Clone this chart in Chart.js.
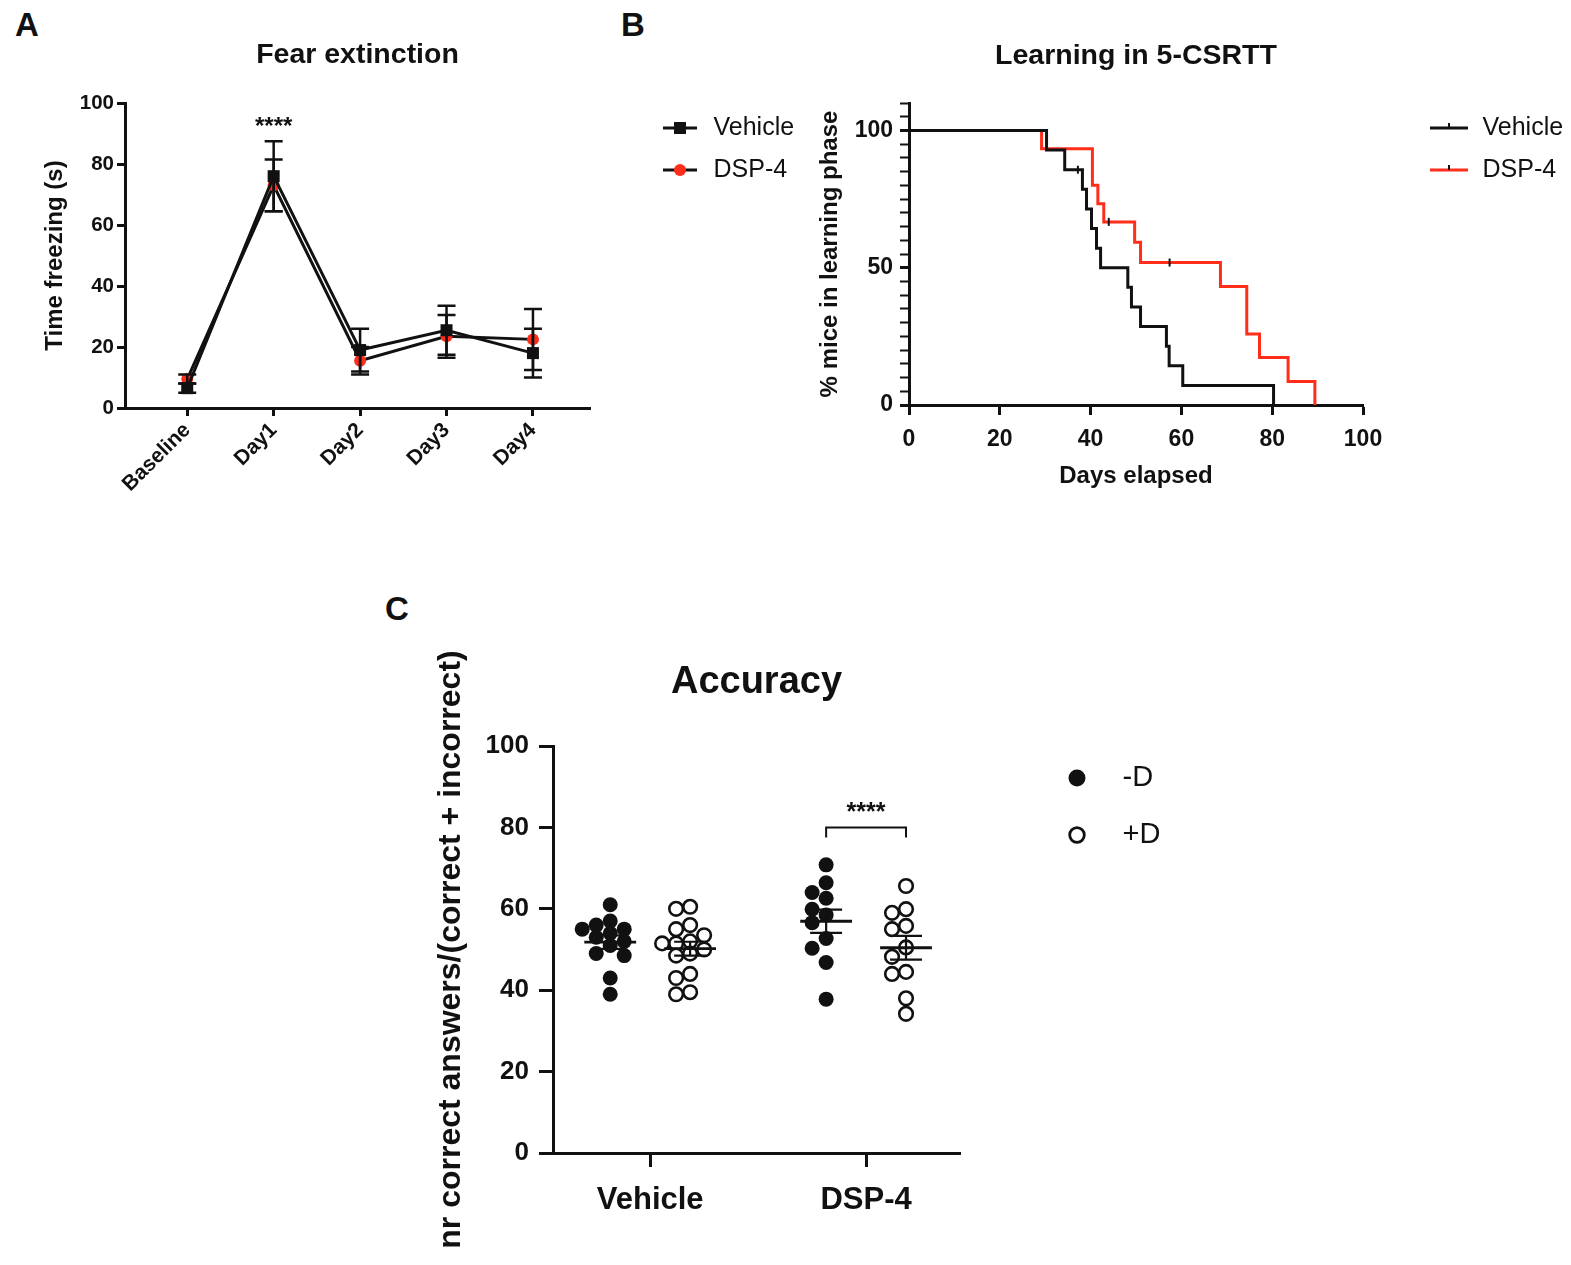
<!DOCTYPE html>
<html>
<head>
<meta charset="utf-8">
<script src="https://cdn.jsdelivr.net/npm/chart.js@4.4.1/dist/chart.umd.min.js"></script>
<style>
html, body { margin: 0; padding: 0; background: #fff; }
body { position: relative; width: 1571px; height: 1265px; overflow: hidden; font-family: 'Liberation Sans', Arial, sans-serif; }
canvas { position: absolute; }
.tag { position: absolute; font-weight: bold; font-size: 33px; line-height: 1; color: #111; }
</style>
</head>
<body>
<div class="tag" style="left:15px;top:8px">A</div>
<div class="tag" style="left:621px;top:8px">B</div>
<div class="tag" style="left:385px;top:592px">C</div>
<canvas id="fear" width="800" height="520" style="left:0;top:0;width:800px;height:520px"></canvas>
<canvas id="learn" width="771" height="500" style="left:800px;top:0;width:771px;height:500px"></canvas>
<canvas id="acc" width="800" height="685" style="left:400px;top:580px;width:800px;height:685px"></canvas>
<script>
var FONT = "'Liberation Sans', Arial, sans-serif";
var INK = "#111";
var RED = "#ff2d1a";

Chart.defaults.font.family = FONT;
Chart.defaults.color = INK;
Chart.defaults.animation = false;

// A - fear extinction
var fearDays = ["Baseline", "Day1", "Day2", "Day3", "Day4"];
var fearVehicle = [6.5, 76, 19, 25.5, 18];
var fearVehicleSem = [1.5, 11.5, 7, 8, 8];
var fearDsp = [9.5, 73, 15.5, 23.5, 22.5];
var fearDspSem = [1.5, 8.5, 4.5, 7, 10];

// B - learning in 5-CSRTT (Kaplan-Meier steps)
var vehicleDays = [0, 30.3, 34.3, 38.2, 39.1, 40.2, 41.3, 42.2, 48.2, 49, 51, 56.7, 57.3, 60.3, 80.3];
var vehicleLearning = [100, 92.9, 85.7, 78.6, 71.4, 64.3, 57.1, 50, 42.9, 35.7, 28.6, 21.4, 14.3, 7.1, 0];
var dspDays = [0, 29.2, 40.4, 41.6, 42.9, 49.7, 51, 68.6, 74.4, 77.2, 83.5, 89.4];
var dspLearning = [100, 93.3, 80, 73.3, 66.7, 59.3, 51.9, 43.2, 25.9, 17.3, 8.6, 0];
var censorDays = [37.2, 44, 57.4];
var censorLearning = [85.7, 66.7, 51.9];

// C - accuracy
var groups = ["Vehicle", "DSP-4"];
var vehMinusD = [61, 57, 56, 55, 55, 54, 53, 52, 51, 49, 48.5, 43, 39];
var vehPlusD = [60.5, 60, 56, 55, 53.5, 52, 51.5, 51.5, 50, 49, 48.5, 44, 43, 39.5, 39];
var dspMinusD = [70.8, 66.4, 64, 62.6, 59.9, 58.5, 56.6, 52.7, 50.3, 46.8, 37.8];
var dspPlusD = [65.6, 59.9, 59, 55.8, 55, 50.5, 48.2, 44.5, 44, 38, 34.2];

var SIDE = 0.185;

function pairs(xs, ys) {
    return xs.map(function (x, i) { return { x: x, y: ys[i] }; });
}

function icon(w, h, paint) {
    var c = document.createElement("canvas");
    c.width = w;
    c.height = h;
    paint(c.getContext("2d"), h / 2);
    return c;
}

function measure(text, font) {
    var g = document.createElement("canvas").getContext("2d");
    g.font = font;
    return g.measureText(text).width;
}

// right padding so that the plot ends at plotRight with a right legend
function rightPad(canvasW, plotRight, gap, boxW, size, texts) {
    var w = Math.max.apply(null, texts.map(function (t) { return measure(t, "normal " + size + "px " + FONT); }));
    return canvasW - plotRight - (gap + boxW + size / 2 + w + 10);
}

function legendOpts(items, size, gap, boxW, titleH) {
    return {
        display: true,
        position: "right",
        align: "start",
        fullSize: true,
        maxWidth: 1000,
        title: { display: true, text: "", font: { size: 10, lineHeight: 1 }, padding: { top: titleH - 10, bottom: 0 } },
        labels: {
            usePointStyle: true,
            pointStyleWidth: boxW,
            padding: gap,
            color: INK,
            font: { size: size, weight: "normal" },
            generateLabels: function () {
                return items.map(function (it, i) {
                    return { text: it[0], pointStyle: it[1], fillStyle: INK, strokeStyle: INK, lineWidth: 0, hidden: false, datasetIndex: i, rotation: 0 };
                });
            },
        },
        onClick: function () {},
    };
}

function axisLine() {
    return { display: true, color: INK, width: 3 };
}

// swarm placement of points around a column centre
function swarm(values, center) {
    var KX = 216, KY = 4.07, STEP = 14, DIAM = 12;
    var placed = [];
    var xs = [];
    var order = values.map(function (v, i) { return i; }).sort(function (a, b) { return values[b] - values[a]; });
    order.forEach(function (i) {
        var v = values[i];
        for (var k = 0; k < 30; k++) {
            var off = (k % 2 === 1 ? -1 : 1) * Math.ceil(k / 2) * STEP;
            var ok = placed.every(function (p) {
                var dx = off - p.off, dy = (v - p.v) * KY;
                return dx * dx + dy * dy >= DIAM * DIAM;
            });
            if (ok) {
                placed.push({ off: off, v: v });
                xs[i] = center + off / KX;
                break;
            }
        }
    });
    return values.map(function (v, i) { return { x: xs[i], y: v }; });
}

// ---------- A ----------
var fearIconVehicle = icon(94, 24, function (g, m) {
    g.strokeStyle = INK; g.lineWidth = 3;
    g.beginPath(); g.moveTo(56, m); g.lineTo(90, m); g.stroke();
    g.fillStyle = INK; g.fillRect(67, m - 6, 12, 12);
});
var fearIconDsp = icon(94, 24, function (g, m) {
    g.strokeStyle = INK; g.lineWidth = 3;
    g.beginPath(); g.moveTo(56, m); g.lineTo(90, m); g.stroke();
    g.fillStyle = RED; g.beginPath(); g.arc(73, m, 6, 0, Math.PI * 2); g.fill();
});

var fearMarks = {
    id: "fearMarks",
    afterDatasetsDraw: function (chart) {
        var ctx = chart.ctx, x = chart.scales.x, y = chart.scales.y;
        ctx.save();
        ctx.strokeStyle = INK;
        ctx.lineWidth = 2.5;
        [[fearVehicle, fearVehicleSem], [fearDsp, fearDspSem]].forEach(function (s) {
            s[0].forEach(function (m, i) {
                var px = x.getPixelForValue(i);
                var top = y.getPixelForValue(m + s[1][i]);
                var bot = y.getPixelForValue(m - s[1][i]);
                ctx.beginPath();
                ctx.moveTo(px, top); ctx.lineTo(px, bot);
                ctx.moveTo(px - 9, top); ctx.lineTo(px + 9, top);
                ctx.moveTo(px - 9, bot); ctx.lineTo(px + 9, bot);
                ctx.stroke();
            });
        });
        ctx.fillStyle = INK;
        ctx.font = "bold 24px " + FONT;
        ctx.textAlign = "center";
        ctx.textBaseline = "middle";
        ctx.fillText("****", x.getPixelForValue(1), y.getPixelForValue(92));
        ctx.restore();
    },
};

new Chart(document.getElementById("fear"), {
    type: "line",
    data: {
        datasets: [
            {
                label: "Vehicle",
                data: fearVehicle.map(function (v, i) { return { x: i, y: v }; }),
                borderColor: INK,
                borderWidth: 3,
                tension: 0,
                pointStyle: "rect",
                pointRadius: 8.5,
                pointBackgroundColor: INK,
                pointBorderColor: INK,
                pointBorderWidth: 0,
            },
            {
                label: "DSP-4",
                data: fearDsp.map(function (v, i) { return { x: i, y: v }; }),
                borderColor: INK,
                borderWidth: 3,
                tension: 0,
                pointStyle: "circle",
                pointRadius: 6,
                pointBackgroundColor: RED,
                pointBorderColor: RED,
                pointBorderWidth: 0,
            },
        ],
    },
    options: {
        responsive: false,
        devicePixelRatio: 1,
        layout: { padding: { left: 0, top: 0, bottom: 0, right: rightPad(800, 590, 17, 94, 25, ["Vehicle", "DSP-4"]) } },
        plugins: {
            title: { display: true, text: "Fear extinction", fullSize: false, color: INK, font: { size: 28.5, weight: "bold" }, padding: { top: 38, bottom: 30.8 } },
            legend: legendOpts([["Vehicle", fearIconVehicle], ["DSP-4", fearIconDsp]], 25, 17, 94, 98.5),
            tooltip: { enabled: false },
        },
        scales: {
            x: {
                type: "linear",
                min: -0.72,
                max: 4.66,
                afterBuildTicks: function (s) { s.ticks = fearDays.map(function (d, i) { return { value: i }; }); },
                afterFit: function (s) { s.height = 112; },
                ticks: {
                    callback: function (v) { return fearDays[v]; },
                    autoSkip: false,
                    minRotation: 45,
                    maxRotation: 45,
                    padding: 2,
                    color: INK,
                    font: { size: 21, weight: "bold" },
                },
                grid: { drawOnChartArea: false, tickLength: 8, tickWidth: 3, tickColor: INK },
                border: axisLine(),
            },
            y: {
                min: 0,
                max: 100,
                afterFit: function (s) { s.width = 125; },
                ticks: { stepSize: 20, padding: 3, color: INK, font: { size: 20.5, weight: "bold" } },
                grid: { drawOnChartArea: false, tickLength: 8, tickWidth: 3, tickColor: INK },
                border: axisLine(),
                title: { display: true, text: "Time freezing (s)", color: INK, font: { size: 24, weight: "bold" }, padding: { top: 41.4, bottom: 0 } },
            },
        },
    },
    plugins: [fearMarks],
});

// ---------- B ----------
var learnIconVehicle = icon(90, 20, function (g, m) {
    g.strokeStyle = INK; g.lineWidth = 3;
    g.beginPath(); g.moveTo(50, m); g.lineTo(88, m); g.stroke();
    g.lineWidth = 2;
    g.beginPath(); g.moveTo(69, m - 5); g.lineTo(69, m); g.stroke();
});
var learnIconDsp = icon(90, 20, function (g, m) {
    g.strokeStyle = RED; g.lineWidth = 3;
    g.beginPath(); g.moveTo(50, m); g.lineTo(88, m); g.stroke();
    g.strokeStyle = INK; g.lineWidth = 2;
    g.beginPath(); g.moveTo(69, m - 5); g.lineTo(69, m); g.stroke();
});

new Chart(document.getElementById("learn"), {
    type: "line",
    data: {
        datasets: [
            {
                label: "Vehicle",
                data: pairs(vehicleDays, vehicleLearning),
                stepped: true,
                borderColor: INK,
                borderWidth: 3,
                pointRadius: 0,
                order: 1,
            },
            {
                label: "DSP-4",
                data: pairs(dspDays, dspLearning),
                stepped: true,
                borderColor: RED,
                borderWidth: 3,
                pointRadius: 0,
                order: 2,
            },
            {
                label: "censored",
                data: pairs(censorDays, censorLearning),
                showLine: false,
                pointStyle: "line",
                pointRotation: 90,
                pointRadius: 4,
                pointBorderColor: INK,
                pointBorderWidth: 2,
                order: 0,
            },
        ],
    },
    options: {
        responsive: false,
        devicePixelRatio: 1,
        layout: { padding: { left: 0, top: 0, bottom: 0, right: rightPad(771, 563, 17, 90, 25, ["Vehicle", "DSP-4"]) } },
        plugins: {
            title: { display: true, text: "Learning in 5-CSRTT", fullSize: false, color: INK, font: { size: 28.5, weight: "bold" }, padding: { top: 39, bottom: 29.8 } },
            legend: legendOpts([["Vehicle", learnIconVehicle], ["DSP-4", learnIconDsp]], 25, 17, 90, 98.5),
            tooltip: { enabled: false },
        },
        scales: {
            x: {
                type: "linear",
                min: 0,
                max: 100,
                afterFit: function (s) { s.height = 95; },
                ticks: { stepSize: 20, padding: 10.8, color: INK, font: { size: 23, weight: "bold" } },
                grid: { drawOnChartArea: false, tickLength: 10, tickWidth: 3, tickColor: INK },
                border: axisLine(),
                title: { display: true, text: "Days elapsed", color: INK, font: { size: 24, weight: "bold" }, padding: { top: 0, bottom: 9.6 } },
            },
            y: {
                min: 0,
                max: 110,
                afterFit: function (s) { s.width = 109; },
                ticks: {
                    stepSize: 5,
                    autoSkip: false,
                    padding: 7,
                    color: INK,
                    font: { size: 23, weight: "bold" },
                    callback: function (v) { return v % 50 === 0 ? v : ""; },
                },
                grid: {
                    drawOnChartArea: false,
                    tickLength: 9,
                    tickColor: INK,
                    tickWidth: function (c) { return c.tick && c.tick.value % 50 === 0 ? 3 : 2; },
                },
                border: axisLine(),
                title: { display: true, text: "% mice in learning phase", color: INK, font: { size: 24, weight: "bold" }, padding: { top: 15.6, bottom: 0 } },
            },
        },
    },
});

// ---------- C ----------
var accIconFilled = icon(120, 24, function (g, m) {
    g.fillStyle = INK; g.beginPath(); g.arc(89, m, 8.5, 0, Math.PI * 2); g.fill();
});
var accIconOpen = icon(120, 24, function (g, m) {
    g.strokeStyle = INK; g.lineWidth = 2.8; g.beginPath(); g.arc(89, m, 7.3, 0, Math.PI * 2); g.stroke();
});

var accMarks = {
    id: "accMarks",
    afterDatasetsDraw: function (chart) {
        var ctx = chart.ctx, x = chart.scales.x, y = chart.scales.y;
        var cols = [[vehMinusD, -SIDE], [vehPlusD, SIDE], [dspMinusD, 1 - SIDE], [dspPlusD, 1 + SIDE]];
        ctx.save();
        ctx.strokeStyle = INK;
        cols.forEach(function (c) {
            var vals = c[0], n = vals.length;
            var mean = vals.reduce(function (a, b) { return a + b; }, 0) / n;
            var sd = Math.sqrt(vals.reduce(function (a, b) { return a + (b - mean) * (b - mean); }, 0) / (n - 1));
            var sem = sd / Math.sqrt(n);
            var cx = x.getPixelForValue(c[1]);
            var half = x.getPixelForValue(c[1] + 0.12) - cx;
            var cap = x.getPixelForValue(c[1] + 0.074) - cx;
            var my = y.getPixelForValue(mean), ty = y.getPixelForValue(mean + sem), by = y.getPixelForValue(mean - sem);
            ctx.lineWidth = 2.8;
            ctx.beginPath();
            ctx.moveTo(cx - half, my); ctx.lineTo(cx + half, my);
            ctx.stroke();
            ctx.lineWidth = 2.2;
            ctx.beginPath();
            ctx.moveTo(cx, ty); ctx.lineTo(cx, by);
            ctx.moveTo(cx - cap, ty); ctx.lineTo(cx + cap, ty);
            ctx.moveTo(cx - cap, by); ctx.lineTo(cx + cap, by);
            ctx.stroke();
        });
        // significance bracket between -D and +D of DSP-4
        var x0 = x.getPixelForValue(1 - SIDE), x1 = x.getPixelForValue(1 + SIDE);
        var yb = y.getPixelForValue(80), ye = y.getPixelForValue(77.5);
        ctx.lineWidth = 2;
        ctx.beginPath();
        ctx.moveTo(x0, ye); ctx.lineTo(x0, yb); ctx.lineTo(x1, yb); ctx.lineTo(x1, ye);
        ctx.stroke();
        ctx.fillStyle = INK;
        ctx.font = "bold 25px " + FONT;
        ctx.textAlign = "center";
        ctx.textBaseline = "middle";
        ctx.fillText("****", x.getPixelForValue(1), y.getPixelForValue(83.5));
        ctx.restore();
    },
};

new Chart(document.getElementById("acc"), {
    type: "scatter",
    data: {
        datasets: [
            {
                label: "-D",
                data: swarm(vehMinusD, -SIDE).concat(swarm(dspMinusD, 1 - SIDE)),
                pointRadius: 7.5,
                pointBackgroundColor: INK,
                pointBorderColor: INK,
                pointBorderWidth: 0,
            },
            {
                label: "+D",
                data: swarm(vehPlusD, SIDE).concat(swarm(dspPlusD, 1 + SIDE)),
                pointRadius: 6.8,
                pointBackgroundColor: "#fff",
                pointBorderColor: INK,
                pointBorderWidth: 2.6,
            },
        ],
    },
    options: {
        responsive: false,
        devicePixelRatio: 1,
        layout: { padding: { left: 0, top: 0, bottom: 0, right: rightPad(800, 560, 28, 120, 29, ["-D", "+D"]) } },
        plugins: {
            title: { display: true, text: "Accuracy", fullSize: false, color: INK, font: { size: 38, weight: "bold" }, padding: { top: 80.2, bottom: 40.2 } },
            legend: legendOpts([["-D", accIconFilled], ["+D", accIconOpen]], 29, 28, 120, 155.5),
            tooltip: { enabled: false },
        },
        scales: {
            x: {
                type: "linear",
                min: -0.45,
                max: 1.435,
                afterBuildTicks: function (s) { s.ticks = groups.map(function (g, i) { return { value: i }; }); },
                afterFit: function (s) { s.height = 112; },
                ticks: {
                    callback: function (v) { return groups[v]; },
                    autoSkip: false,
                    maxRotation: 0,
                    padding: 14.4,
                    color: INK,
                    font: { size: 31, weight: "bold" },
                },
                grid: { drawOnChartArea: false, tickLength: 14, tickWidth: 3, tickColor: INK },
                border: axisLine(),
            },
            y: {
                min: 0,
                max: 100,
                afterFit: function (s) { s.width = 153; },
                ticks: { stepSize: 20, padding: 10, color: INK, font: { size: 26, weight: "bold" } },
                grid: { drawOnChartArea: false, tickLength: 14, tickWidth: 3, tickColor: INK },
                border: axisLine(),
                title: { display: true, text: "nr correct answers/(correct + incorrect)", color: INK, font: { size: 32, weight: "bold" }, padding: { top: 31.8, bottom: 0 } },
            },
        },
    },
    plugins: [accMarks],
});
</script>
</body>
</html>
